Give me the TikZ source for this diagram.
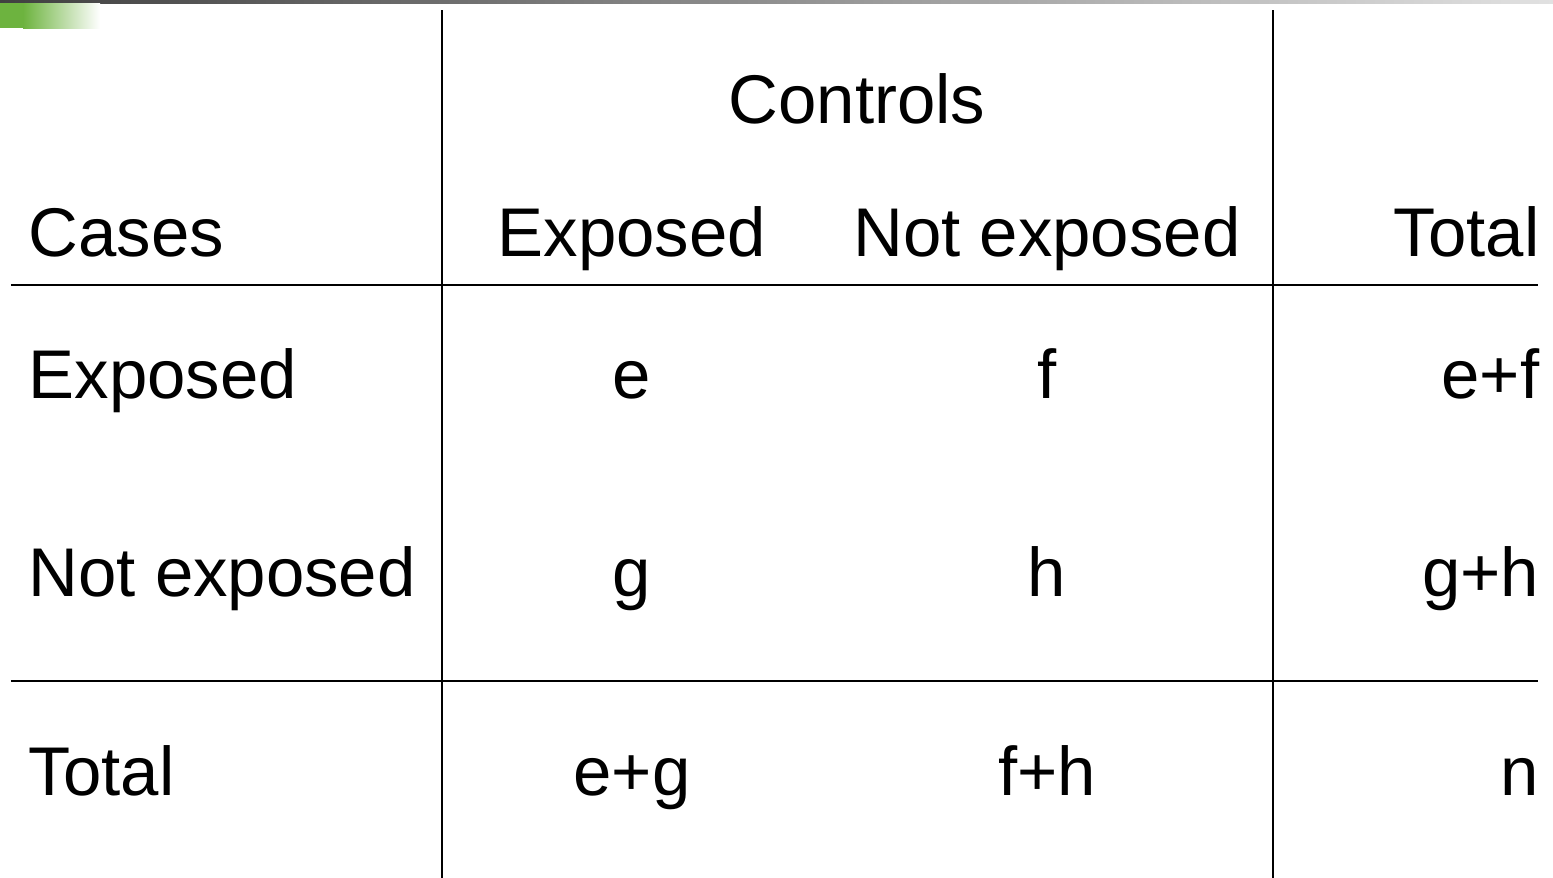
\documentclass[tikz,border=0pt]{standalone}
\usepackage{fontspec}
\setmainfont{Liberation Sans}
\definecolor{bargreen}{RGB}{109,179,63}
\definecolor{bardark}{RGB}{64,64,64}
\definecolor{barlight}{RGB}{225,225,225}
\tikzset{
  cell/.style={inner sep=0pt, font=\fontsize{19.6}{23}\selectfont},
  rule/.style={line width=0.65pt, black}
}
\begin{document}
\begin{tikzpicture}[x=0.01cm, y=-0.01cm]

\useasboundingbox (0, 0) rectangle (1553, 878);

% top bar
\shade[left color=bardark, right color=barlight] (0, 0) rectangle (1553, 3);
\fill[bargreen] (0, 3) rectangle (23, 28);
\shade[left color=bargreen, right color=white] (23, 3) rectangle (100, 28);

% rules
\draw[rule] (442, 10) -- (442, 878);
\draw[rule] (1273, 10) -- (1273, 878);
\draw[rule] (11, 285) -- (1538, 285);
\draw[rule] (11, 681) -- (1538, 681);

% header
\node[cell, anchor=base] (controls) at (857, 123) {Controls};
\node[cell, anchor=base west] (cases) at (28, 256) {Cases};
\node[cell, anchor=base] (hexp) at (632, 256) {Exposed};
\node[cell, anchor=base] (hnexp) at (1047, 256) {Not exposed};
\node[cell, anchor=base east] (htot) at (1540, 256) {Total};

% row: exposed
\node[cell, anchor=base west] (rexp) at (28, 398) {Exposed};
\node[cell, anchor=base] (e) at (632, 398) {e};
\node[cell, anchor=base] (f) at (1047, 398) {f};
\node[cell, anchor=base east] (ef) at (1540, 398) {e+f};

% row: not exposed
\node[cell, anchor=base west] (rnexp) at (28, 596) {Not exposed};
\node[cell, anchor=base] (g) at (632, 596) {g};
\node[cell, anchor=base] (h) at (1047, 596) {h};
\node[cell, anchor=base east] (gh) at (1540, 596) {g+h};

% row: total
\node[cell, anchor=base west] (rtot) at (28, 795) {Total};
\node[cell, anchor=base] (eg) at (632, 795) {e+g};
\node[cell, anchor=base] (fh) at (1047, 795) {f+h};
\node[cell, anchor=base east] (n) at (1540, 795) {n};

\end{tikzpicture}
\end{document}
